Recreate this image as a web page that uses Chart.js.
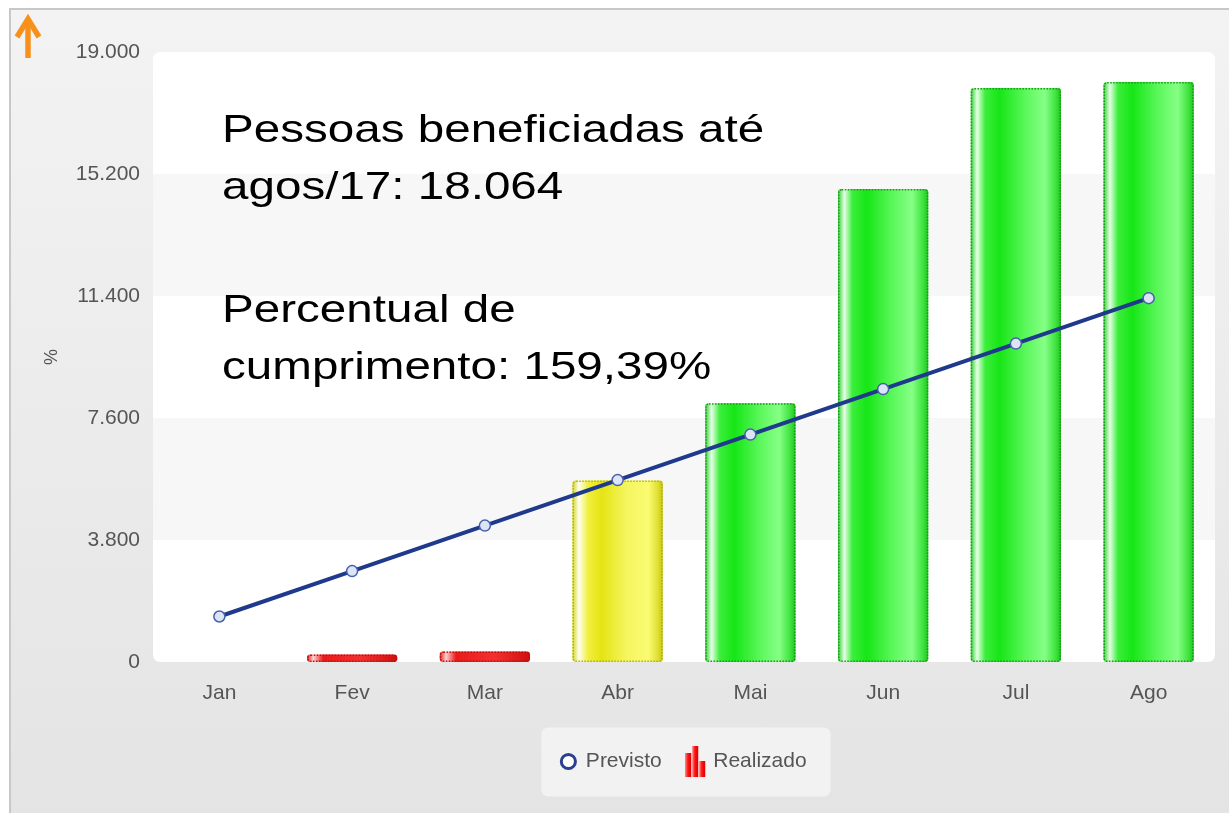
<!DOCTYPE html>
<html>
<head>
<meta charset="utf-8">
<script src="https://cdn.jsdelivr.net/npm/chart.js@4.4.1/dist/chart.umd.min.js"></script>
<style>
  html, body { margin: 0; padding: 0; background: #fff; }
  body { width: 1229px; height: 813px; position: relative; overflow: hidden; }
  #moldura { position: absolute; left: 9px; top: 8px; right: 0; bottom: 0;
    border-left: 2px solid #c8c8c8; border-top: 2px solid #c8c8c8;
    background: linear-gradient(#f3f3f3, #e4e4e4); }
  #caixa { position: absolute; left: 0; top: 0; width: 1229px; height: 813px; }
  .nota { position: absolute; left: 222px; font-family: "Liberation Sans", Arial, sans-serif;
    font-size: 39px; line-height: 57px; color: #000; white-space: nowrap;
    transform: scaleX(1.22); transform-origin: 0 0; }
  #seta { position: absolute; left: 13px; top: 13px; }
</style>
</head>
<body>
<div id="moldura"></div>
<svg id="seta" width="32" height="48" viewBox="0 0 32 48">
  <polyline points="4,24 15,6 26,24" fill="none" stroke="#f7911c" stroke-width="5.5" stroke-linejoin="miter"/>
  <line x1="15" y1="7" x2="15" y2="45" stroke="#f7911c" stroke-width="5.5"/>
</svg>
<div id="caixa"><canvas id="grafico"></canvas></div>
<div class="nota" style="top:100px">Pessoas beneficiadas até<br>agos/17: 18.064</div>
<div class="nota" style="top:280px">Percentual de<br>cumprimento: 159,39%</div>
<script>
const meses = ["Jan", "Fev", "Mar", "Abr", "Mai", "Jun", "Jul", "Ago"];
const previsto = [1417, 2833, 4250, 5667, 7083, 8500, 9917, 11333];
const realizado = [0, 230, 330, 5650, 8060, 14730, 17880, 18064];
const ticksY = [0, 3800, 7600, 11400, 15200, 19000];

const fonte = { family: "Liberation Sans", size: 21 };

// cores das barras conforme o cumprimento da meta
const paletas = {
    verde: { borda: '#1a9a1a', stops: [[0, '#2fd02f'], [0.07, '#e6ffe6'], [0.16, '#3cee3c'], [0.32, '#16e616'], [0.6, '#5af75a'], [0.82, '#86ff86'], [0.94, '#3fe43f'], [1, '#1fc41f']] },
    amarelo: { borda: '#b0b010', stops: [[0, '#d4d420'], [0.07, '#fffff0'], [0.17, '#f0f040'], [0.32, '#e4e414'], [0.6, '#f5f560'], [0.84, '#fbfb72'], [0.95, '#dede30'], [1, '#c4c410']] },
    vermelho: { borda: '#c01010', stops: [[0, '#e02020'], [0.07, '#ffd0d0'], [0.18, '#ea1a1a'], [0.6, '#f23030'], [1, '#d01010']] }
};

function situacao(i) {
    const r = realizado[i] / previsto[i];
    return r >= 1 ? 'verde' : (r >= 0.9 ? 'amarelo' : 'vermelho');
}

function formata(v) {
    return String(v).replace(/\B(?=(\d{3})+(?!\d))/g, '.');
}

function iconeBarras() {
    const c = document.createElement('canvas');
    c.width = 21; c.height = 31;
    const g = c.getContext('2d');
    [[0, 7], [7, 0], [14, 15]].forEach(([x, topo]) => {
        const gr = g.createLinearGradient(x, 0, x + 6, 0);
        gr.addColorStop(0, '#ff8a8a');
        gr.addColorStop(0.45, '#ff1010');
        gr.addColorStop(1, '#e00000');
        g.fillStyle = gr;
        g.fillRect(x, topo, 6, 31 - topo);
    });
    return c;
}

const fundoGrafico = {
    id: 'fundoGrafico',
    beforeDraw(chart) {
        const { ctx, chartArea: a, scales: { y } } = chart;
        ctx.save();
        const hb = chart.legend && chart.legend.legendHitBoxes;
        if (hb && hb.length) {
            const l = Math.min(...hb.map(h => h.left)) - 20;
            const r = Math.max(...hb.map(h => h.left + h.width)) + 24;
            const cy = hb[0].top + hb[0].height / 2;
            ctx.fillStyle = '#f2f2f2';
            ctx.beginPath();
            ctx.roundRect(l, cy - 34, r - l, 69, 7);
            ctx.fill();
        }
        ctx.beginPath();
        ctx.roundRect(a.left, a.top, a.width, a.height, 7);
        ctx.clip();
        ctx.fillStyle = '#ffffff';
        ctx.fillRect(a.left, a.top, a.width, a.height);
        ctx.fillStyle = '#f7f7f7';
        for (let k = 1; k < ticksY.length - 1; k += 2) {
            const y1 = y.getPixelForValue(ticksY[k + 1]);
            const y0 = y.getPixelForValue(ticksY[k]);
            ctx.fillRect(a.left, y1, a.width, y0 - y1);
        }
        ctx.restore();
    }
};

const bordaPontilhada = {
    id: 'bordaPontilhada',
    afterDatasetDraw(chart, args) {
        if (args.meta.type !== 'bar') return;
        const ctx = chart.ctx;
        ctx.save();
        ctx.setLineDash([1.5, 1.5]);
        ctx.lineWidth = 1.5;
        args.meta.data.forEach((bar, i) => {
            if (!realizado[i]) return;
            const { x, y, base, width } = bar.getProps(['x', 'y', 'base', 'width'], true);
            ctx.strokeStyle = paletas[situacao(i)].borda;
            ctx.beginPath();
            ctx.roundRect(x - width / 2 + 0.75, y + 0.75, width - 1.5, base - y - 1.5, 3);
            ctx.stroke();
        });
        ctx.restore();
    }
};

document.addEventListener('DOMContentLoaded', () => {
    criarGrafico();
});

function criarGrafico() {
    let ctx = document.getElementById("grafico").getContext("2d");

    new Chart(ctx, {
        data: {
            labels: meses,
            datasets: [{
                type: 'line',
                label: 'Previsto',
                data: previsto,
                borderColor: '#1f3a8c',
                borderWidth: 4,
                tension: 0,
                pointRadius: 5.5,
                pointBorderWidth: 1.5,
                pointBorderColor: '#4660b0',
                pointBackgroundColor: '#dde4f6',
                order: 1
            }, {
                type: 'bar',
                label: 'Realizado',
                data: realizado,
                backgroundColor: (c) => {
                    const chart = c.chart;
                    const area = chart.chartArea;
                    if (!area || c.type !== 'data') return '#22dd22';
                    const x = chart.scales.x.getPixelForValue(c.dataIndex);
                    const w = area.width / meses.length * 0.8 * 0.85;
                    const g = chart.ctx.createLinearGradient(x - w / 2, 0, x + w / 2, 0);
                    paletas[situacao(c.dataIndex)].stops.forEach(s => g.addColorStop(s[0], s[1]));
                    return g;
                },
                borderWidth: 0,
                borderRadius: 3,
                borderSkipped: false,
                categoryPercentage: 0.8,
                barPercentage: 0.85,
                order: 2
            }]
        },
        options: {
            responsive: true,
            maintainAspectRatio: false,
            animation: false,
            layout: {
                padding: { left: 10, right: 14, top: 52, bottom: 31 }
            },
            plugins: {
                tooltip: { enabled: false },
                legend: {
                    position: 'bottom',
                    fullSize: false,
                    labels: {
                        usePointStyle: true,
                        boxWidth: 14,
                        boxHeight: 10,
                        padding: 27,
                        color: '#555',
                        font: fonte,
                        generateLabels: () => [{
                            text: 'Previsto',
                            fontColor: '#555',
                            pointStyle: 'circle',
                            fillStyle: '#ffffff',
                            strokeStyle: '#2b3f8e',
                            lineWidth: 3,
                            datasetIndex: 0,
                            hidden: false
                        }, {
                            text: 'Realizado',
                            fontColor: '#555',
                            pointStyle: iconeBarras(),
                            fillStyle: '#ff0000',
                            strokeStyle: '#ff0000',
                            lineWidth: 0,
                            datasetIndex: 1,
                            hidden: false
                        }]
                    }
                }
            },
            scales: {
                x: {
                    grid: { display: false },
                    border: { display: false },
                    ticks: { color: '#555', font: fonte, padding: 11 },
                    afterFit(s) { s.height = 62; }
                },
                y: {
                    min: 0,
                    max: 19000,
                    grid: { display: false },
                    border: { display: false },
                    afterBuildTicks(s) { s.ticks = ticksY.map(v => ({ value: v })); },
                    ticks: {
                        color: '#555',
                        font: fonte,
                        padding: 5,
                        callback: v => formata(v)
                    },
                    title: {
                        display: true,
                        text: '%',
                        color: '#555',
                        font: { family: "Liberation Sans", size: 18 },
                        padding: { top: 31 }
                    },
                    afterFit(s) { s.width = 143; }
                }
            }
        },
        plugins: [fundoGrafico, bordaPontilhada]
    });
}
</script>
</body>
</html>
